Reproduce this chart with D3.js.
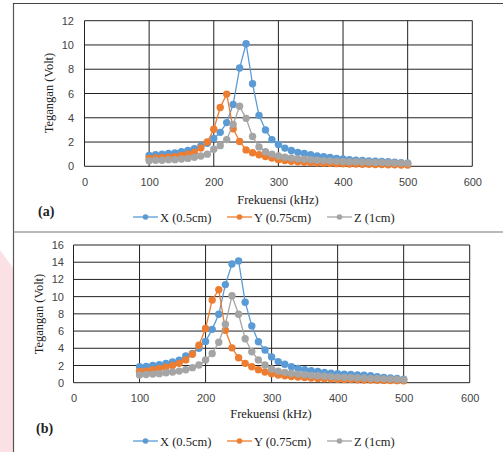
<!DOCTYPE html>
<html lang="en">
    <head>
        <meta charset="utf-8">
        <title>Tegangan vs Frekuensi</title>
        <script type="text/javascript" src="https://d3js.org/d3.v7.min.js"></script>
        <style>
            body { margin: 0; background: white; }
            .tick text { font-family: "Liberation Sans", Arial, sans-serif; font-size: 11px; fill: #444; }
            .title { font-family: "Liberation Serif", "Times New Roman", serif; font-size: 12.5px; fill: #222; }
            .legend { font-family: "Liberation Serif", "Times New Roman", serif; font-size: 12.5px; fill: #222; }
            .panelLabel { font-family: "Liberation Serif", "Times New Roman", serif; font-size: 14px; font-weight: bold; fill: #222; }
        </style>
    </head>
    <body>
        <div id="svgContainer"></div>
        <script type="text/javascript">
            //frequency in kHz, 100..500 step 10
            let freq = [100,110,120,130,140,150,160,170,180,190,200,210,220,230,240,250,260,270,280,290,300,
                        310,320,330,340,350,360,370,380,390,400,410,420,430,440,450,460,470,480,490,500];

            let seriesNames = ["X (0.5cm)", "Y (0.75cm)", "Z (1cm)"];
            let seriesColors = ["#5b9bd5", "#ed7d31", "#a5a5a5"];

            //panel (a)
            let aX = [0.9,0.95,1.0,1.05,1.1,1.2,1.3,1.45,1.65,1.9,2.3,2.8,3.6,5.1,8.1,10.1,6.8,4.2,3.0,2.2,1.8,
                      1.5,1.3,1.15,1.05,0.95,0.85,0.8,0.72,0.65,0.6,0.55,0.5,0.48,0.45,0.42,0.4,0.37,0.34,0.3,0.25];
            let aY = [0.65,0.68,0.72,0.75,0.8,0.9,1.0,1.15,1.5,2.0,3.05,4.85,5.95,3.1,2.05,1.35,1.12,0.95,0.8,0.68,0.55,
                      0.48,0.42,0.38,0.34,0.3,0.28,0.26,0.24,0.22,0.2,0.19,0.18,0.17,0.16,0.15,0.14,0.13,0.12,0.11,0.1];
            let aZ = [0.45,0.5,0.5,0.55,0.55,0.6,0.65,0.75,0.85,1.0,1.4,1.7,2.2,3.45,4.95,3.95,2.45,1.6,1.2,1.0,0.85,
                      0.75,0.68,0.62,0.58,0.54,0.5,0.47,0.45,0.43,0.4,0.38,0.37,0.35,0.34,0.32,0.31,0.3,0.28,0.27,0.25];
            let aTicksY = [0,2,4,6,8,10,12];

            //panel (b)
            let bX = [1.85,1.9,2.0,2.1,2.25,2.4,2.6,3.1,3.4,4.0,4.8,6.2,7.95,11.4,13.8,14.15,9.35,6.6,4.75,3.8,3.0,
                      2.45,2.15,1.85,1.65,1.5,1.4,1.3,1.2,1.1,1.05,1.0,0.95,0.9,0.88,0.8,0.7,0.6,0.55,0.5,0.4];
            let bY = [1.3,1.35,1.5,1.65,1.8,2.0,2.25,2.65,3.3,4.35,6.3,9.6,10.8,6.1,4.05,2.9,2.25,1.85,1.5,1.25,1.05,
                      0.9,0.8,0.72,0.65,0.6,0.55,0.5,0.47,0.44,0.4,0.38,0.36,0.34,0.32,0.3,0.28,0.27,0.25,0.24,0.22];
            let bZ = [0.9,0.95,1.0,1.05,1.15,1.25,1.35,1.5,1.75,2.05,2.65,3.4,4.7,6.8,10.1,7.95,5.1,3.6,2.65,2.05,1.6,
                      1.35,1.2,1.1,1.0,0.92,0.85,0.8,0.75,0.7,0.65,0.62,0.6,0.58,0.55,0.5,0.48,0.45,0.42,0.4,0.35];
            let bTicksY = [0,2,4,6,8,10,12,14,16];

            let ticksX = [0,100,200,300,400,500,600];

            let w = 503, h = 452;

            let svg = d3.select("#svgContainer")
                        .append("svg")
                        .attr("width", w)
                        .attr("height", h);

            //pink decoration on the left of panel (b)
            svg.append("polygon")
                .attr("points", "0,250 13,268 13,452 0,452")
                .attr("fill", "#fbe1e5");

            //frame
            svg.append("line").attr("x1", 13.5).attr("x2", 13.5).attr("y1", 3).attr("y2", h)
                .attr("stroke", "#555").attr("stroke-width", 1.2);
            svg.append("line").attr("x1", 13).attr("x2", w).attr("y1", 3.5).attr("y2", 3.5)
                .attr("stroke", "#444").attr("stroke-width", 1.2);
            svg.append("line").attr("x1", 13).attr("x2", w).attr("y1", 232).attr("y2", 232)
                .attr("stroke", "#777").attr("stroke-width", 1.2);

            const drawPanel = (p) => {
                let xScale = d3.scaleLinear().domain([0, 600]).range([p.left, p.right]);
                let yScale = d3.scaleLinear().domain([0, p.yMax]).range([p.bottom, p.top]);

                let g = svg.append("g");

                //grid
                g.selectAll(".vgrid")
                    .data(ticksX)
                    .enter()
                    .append("line")
                    .attr("x1", d => xScale(d)).attr("x2", d => xScale(d))
                    .attr("y1", p.top).attr("y2", p.bottom)
                    .attr("stroke", "#222").attr("stroke-width", 1);
                g.selectAll(".hgrid")
                    .data(p.ticksY)
                    .enter()
                    .append("line")
                    .attr("x1", p.left).attr("x2", p.right)
                    .attr("y1", d => yScale(d)).attr("y2", d => yScale(d))
                    .attr("stroke", "#222").attr("stroke-width", 1);

                //axes, labels only
                let xAxis = d3.axisBottom(xScale).tickValues(ticksX).tickSize(0).tickPadding(0);
                let yAxis = d3.axisLeft(yScale).tickValues(p.ticksY).tickSize(0).tickPadding(0);

                g.append("g")
                    .attr("transform", `translate(0, ${p.xTickY})`)
                    .call(xAxis)
                    .call(s => s.select(".domain").remove());
                g.append("g")
                    .attr("transform", `translate(${p.yTickX}, 0)`)
                    .call(yAxis)
                    .call(s => s.select(".domain").remove());

                //series
                let line = d3.line()
                            .x((d, i) => xScale(freq[i]))
                            .y(d => yScale(d));

                p.series.forEach((vals, k) => {
                    g.append("path")
                        .datum(vals)
                        .attr("d", line)
                        .attr("fill", "none")
                        .attr("stroke", seriesColors[k])
                        .attr("stroke-width", 1.3);
                    g.selectAll(".dot" + k)
                        .data(vals)
                        .enter()
                        .append("circle")
                        .attr("cx", (d, i) => xScale(freq[i]))
                        .attr("cy", d => yScale(d))
                        .attr("r", 3.7)
                        .attr("fill", seriesColors[k]);
                });

                //titles
                g.append("text")
                    .attr("class", "title")
                    .attr("x", p.xTitleX)
                    .attr("y", p.xTitleY)
                    .attr("text-anchor", "middle")
                    .text("Frekuensi (kHz)");
                g.append("text")
                    .attr("class", "title")
                    .attr("transform", `translate(${p.yTitleX}, ${p.yTitleY}) rotate(-90)`)
                    .attr("text-anchor", "middle")
                    .text("Tegangan (Volt)");
                g.append("text")
                    .attr("class", "panelLabel")
                    .attr("x", p.labelX)
                    .attr("y", p.labelY)
                    .text(p.label);

                //legend
                let legendX = [133, 227, 327];
                seriesNames.forEach((name, k) => {
                    g.append("line")
                        .attr("x1", legendX[k]).attr("x2", legendX[k] + 25)
                        .attr("y1", p.legendY).attr("y2", p.legendY)
                        .attr("stroke", seriesColors[k]).attr("stroke-width", 1.3);
                    g.append("circle")
                        .attr("cx", legendX[k] + 12.5).attr("cy", p.legendY)
                        .attr("r", 2.8)
                        .attr("fill", seriesColors[k]);
                    g.append("text")
                        .attr("class", "legend")
                        .attr("x", legendX[k] + 27)
                        .attr("y", p.legendY + 4.5)
                        .text(name);
                });
            };

            drawPanel({
                left: 84.5, right: 472.3, top: 20.7, bottom: 166.3, yMax: 12,
                ticksY: aTicksY, series: [aX, aY, aZ],
                xTickY: 178, yTickX: 74,
                xTitleX: 278, xTitleY: 204,
                yTitleX: 53, yTitleY: 93,
                label: "(a)", labelX: 38, labelY: 216,
                legendY: 217
            });

            drawPanel({
                left: 73.5, right: 469.7, top: 245, bottom: 382.7, yMax: 16,
                ticksY: bTicksY, series: [bX, bY, bZ],
                xTickY: 394, yTickX: 64,
                xTitleX: 271, xTitleY: 418,
                yTitleX: 43, yTitleY: 314,
                label: "(b)", labelX: 36, labelY: 433,
                legendY: 441
            });
        </script>
    </body>
</html>
